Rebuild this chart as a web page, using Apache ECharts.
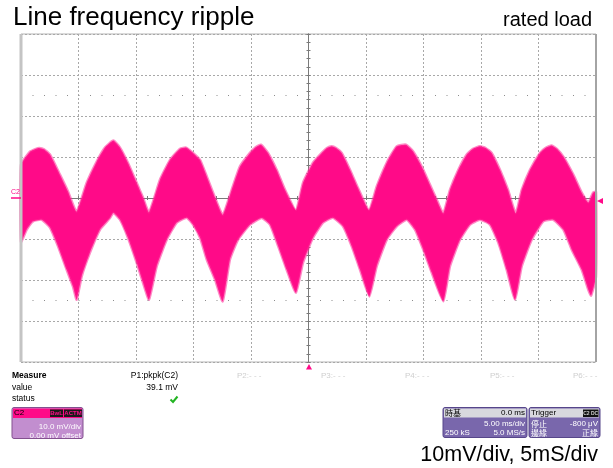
<!DOCTYPE html>
<html><head><meta charset="utf-8">
<script src="https://cdn.jsdelivr.net/npm/echarts@6/dist/echarts.min.js"></script>
<style>html,body{margin:0;padding:0;background:#fff}#c{width:613px;height:468px}</style>
</head><body><div id="c"></div>
<script>
// time (ms) / voltage (mV): upper and lower edge of the noisy ripple band
const upperEnv = [[-25.0,8.1],[-24.22,11.3],[-23.70,12.0],[-23.41,12.2],[-23.00,11.9],[-22.48,10.6],[-21.61,5.7],[-20.91,1.6],[-20.17,-3.3],
 [-19.29,3.7],[-18.42,8.9],[-17.70,12.3],[-16.97,14.0],[-16.39,12.3],[-15.70,8.6],[-14.94,3.7],[-14.39,0.1],[-13.87,-3.5],
 [-12.91,4.5],[-12.04,9.3],[-11.17,12.0],[-10.65,12.3],[-10.04,11.0],[-9.43,9.3],[-8.85,5.3],[-8.13,0.1],[-7.46,-4.1],
 [-6.68,2.0],[-5.96,7.7],[-5.09,11.0],[-4.60,12.4],[-4.13,13.0],[-3.52,11.0],[-2.77,6.9],[-2.04,2.0],[-1.09,-2.9],
 [-0.48,3.7],[0.39,8.6],[1.15,11.0],[1.60,12.2],[2.02,12.6],[2.40,12.2],[2.89,11.0],[3.61,6.9],[4.30,2.5],[5.26,-2.9],
 [5.93,2.8],[6.80,8.6],[7.67,12.6],[8.48,13.0],[9.09,11.4],[9.84,7.7],[10.57,3.2],[11.15,-0.4],[11.72,-3.7],
 [12.30,2.0],[13.03,6.9],[13.76,10.6],[14.30,12.0],[14.91,12.6],[15.40,12.2],[15.93,11.0],[16.65,6.9],[17.35,2.0],[18.02,-3.7],
 [18.54,2.0],[19.26,6.9],[20.13,11.0],[20.60,12.2],[21.15,12.8],[21.60,12.0],[22.16,10.1],[23.03,5.7],[23.76,1.3],[24.33,-1.1],[24.74,1.3],[25.0,1.5]];
const lowerEnv = [[-25.0,-10.7],[-24.50,-7.7],[-23.96,-5.7],[-23.20,-5.3],[-22.48,-7.2],[-21.78,-11.8],[-21.03,-17.5],[-20.48,-21.6],[-20.16,-24.8],
 [-19.72,-19.1],[-19.00,-13.3],[-18.13,-7.7],[-17.26,-4.9],[-16.97,-3.6],[-16.39,-5.3],[-15.70,-9.7],[-14.94,-15.8],[-14.39,-20.7],[-13.87,-24.8],
 [-13.20,-16.7],[-12.33,-10.2],[-11.46,-6.0],[-10.59,-4.8],[-10.04,-6.5],[-9.43,-9.7],[-8.85,-15.0],[-8.13,-19.9],[-7.46,-25.2],
 [-6.83,-15.0],[-6.13,-10.2],[-5.09,-6.5],[-4.07,-4.9],[-3.35,-6.5],[-2.63,-11.8],[-1.90,-17.5],[-1.09,-23.1],
 [-0.48,-15.8],[0.39,-9.7],[1.26,-6.0],[2.13,-4.8],[3.00,-6.9],[3.76,-11.8],[4.48,-17.5],[5.29,-24.0],
 [5.93,-16.7],[6.80,-10.2],[7.67,-6.9],[8.54,-5.3],[9.26,-7.7],[9.98,-12.6],[10.71,-18.2],[11.72,-25.2],
 [12.30,-16.7],[13.17,-10.2],[14.04,-6.5],[14.91,-5.3],[15.78,-6.5],[16.50,-10.9],[17.23,-17.5],[17.96,-24.8],
 [18.54,-16.7],[19.41,-10.2],[20.42,-5.7],[21.29,-5.3],[22.16,-7.7],[22.89,-12.6],[23.76,-17.5],[24.33,-22.4],[24.57,-23.8],[25.0,-19.2]];
const refLevels = [25, -25];

const PINK = '#ff0a88';
const FONT = 'Liberation Sans, Arial, sans-serif';
const CJK = '"Noto Sans CJK TC", sans-serif';
const chart = echarts.init(document.getElementById('c'), null, {renderer: 'canvas'});

function txt(x, y, s, size, fill, align, weight, family) {
  return {type: 'text', x: x, y: y, silent: true, z: 10, style: {text: s, fill: fill || '#000',
    font: (weight || 'normal') + ' ' + size + 'px ' + (family || FONT), textAlign: align || 'left', textVerticalAlign: 'middle'}};
}
function rect(x, y, w, h, fill, stroke, r) {
  return {type: 'rect', silent: true, z: 9, shape: {x: x, y: y, width: w, height: h, r: r || 0},
    style: {fill: fill, stroke: stroke || null, lineWidth: stroke ? 1 : 0}};
}
const axisCommon = {type: 'value', min: -25, max: 25, interval: 5};
const centerLine = {show: true, onZero: true, onZeroAxisIndex: 0, lineStyle: {color: '#7a7a7a', width: 1}};
const tickStyle = {show: true, length: 2, lineStyle: {color: '#7a7a7a'}};
const minorStyle = {show: true, splitNumber: 5, length: 2, lineStyle: {color: '#7a7a7a'}};
const gridSplit = {show: true, lineStyle: {color: '#a8a8a8', type: [2, 2], width: 1}};

chart.setOption({
  animation: false,
  grid: {left: 21, right: 17, top: 34, bottom: 106, show: true, borderColor: '#b4b4b4', borderWidth: 1},
  xAxis: [
    Object.assign({}, axisCommon, {position: 'bottom', axisLine: centerLine, axisTick: tickStyle, minorTick: minorStyle, axisLabel: {show: false}, splitLine: gridSplit}),
    Object.assign({}, axisCommon, {position: 'top', axisLine: centerLine, axisTick: tickStyle, minorTick: minorStyle, axisLabel: {show: false}, splitLine: {show: false}})
  ],
  yAxis: [
    {type: 'value', min: -40, max: 40, interval: 10, position: 'left', axisLine: centerLine, axisTick: tickStyle, minorTick: minorStyle, axisLabel: {show: false}, splitLine: gridSplit},
    {type: 'value', min: -40, max: 40, interval: 10, position: 'right', axisLine: centerLine, axisTick: tickStyle, minorTick: minorStyle, axisLabel: {show: false}, splitLine: {show: false}}
  ],
  series: [{
    type: 'custom', xAxisIndex: 0, yAxisIndex: 0, z: 3,
    data: [[0, 0]],
    renderItem: function (params, api) {
      const pts = upperEnv.map(p => api.coord(p)).concat(lowerEnv.slice().reverse().map(p => api.coord(p)));
      return {type: 'polygon', shape: {points: pts, smooth: 0.15},
        style: {fill: PINK, stroke: 'rgba(255,40,150,0.55)', lineWidth: 2.5, lineJoin: 'round'}};
    },
    markLine: {silent: true, symbol: 'none', label: {show: false},
      lineStyle: {color: '#8c8c8c', type: [1, 10.5], width: 1},
      data: refLevels.map(v => ({yAxis: v}))}
  }],
  graphic: [
    {type: 'rect', silent: true, z: 8, shape: {x: 19.5, y: 34, width: 3, height: 328}, style: {fill: '#c4c4c4'}},
    {type: 'rect', silent: true, z: 8, shape: {x: 595, y: 34, width: 2, height: 328}, style: {fill: '#a4a4a4'}},
    txt(13, 18, 'Line frequency ripple', 26, '#000'),
    txt(592, 20, 'rated load', 20, '#000', 'right'),
    // channel marker & trigger markers
    {type: 'line', silent: true, z: 9, shape: {x1: 11, y1: 198, x2: 21, y2: 198}, style: {stroke: PINK, lineWidth: 1.5}},
    txt(11, 192.5, 'C2', 7, PINK),
    {type: 'polygon', silent: true, z: 9, shape: {points: [[597, 201], [603, 198], [603, 204]]}, style: {fill: PINK}},
    {type: 'polygon', silent: true, z: 9, shape: {points: [[306, 369.5], [312, 369.5], [309, 364]]}, style: {fill: PINK}},
    // measurement table
    txt(12, 375.5, 'Measure', 8.5, '#000', 'left', 'bold'),
    txt(12, 387.5, 'value', 8.5, '#000'),
    txt(12, 399, 'status', 8.5, '#000'),
    txt(178, 375.5, 'P1:pkpk(C2)', 8.5, '#000', 'right'),
    txt(178, 387.5, '39.1 mV', 8.5, '#000', 'right'),
    {type: 'polyline', silent: true, z: 9, shape: {points: [[170.5, 399.5], [173, 402], [177.5, 396.5]]}, style: {stroke: '#22b422', lineWidth: 2, fill: null}},
    txt(237, 375.5, 'P2:- - -', 8, '#cfcfcf'),
    txt(321, 375.5, 'P3:- - -', 8, '#cfcfcf'),
    txt(405, 375.5, 'P4:- - -', 8, '#cfcfcf'),
    txt(490, 375.5, 'P5:- - -', 8, '#cfcfcf'),
    txt(573, 375.5, 'P6:- - -', 8, '#cfcfcf'),
    // C2 box
    rect(12, 407.5, 71, 31, '#c28ecf', '#83508f', 2),
    rect(13, 408.5, 69, 9.5, PINK),
    txt(14, 413, 'C2', 8, '#000'),
    rect(50, 409.5, 13, 7.5, '#1a1a1a'),
    txt(56.5, 413.3, 'BwL', 6, PINK, 'center', 'bold'),
    rect(64, 409.5, 18, 7.5, '#1a1a1a'),
    txt(73, 413.3, 'ACTM', 6, PINK, 'center', 'bold'),
    txt(81, 427, '10.0 mV/div', 8, '#ffffff', 'right'),
    txt(81, 435.5, '0.00 mV offset', 8, '#ffffff', 'right'),
    // timebase box
    rect(443, 407.5, 84, 30, '#7967ac', '#56468a', 2),
    rect(444, 408.5, 82, 9, '#d8d8de'),
    txt(445, 413, '時基', 8, '#000', 'left', 'normal', CJK),
    txt(525, 413, '0.0 ms', 8, '#000', 'right'),
    txt(525, 424, '5.00 ms/div', 8, '#ffffff', 'right'),
    txt(445, 432.5, '250 kS', 8, '#ffffff'),
    txt(525, 432.5, '5.0 MS/s', 8, '#ffffff', 'right'),
    // trigger box
    rect(529, 407.5, 71, 30, '#7967ac', '#56468a', 2),
    rect(530, 408.5, 69, 9, '#d8d8de'),
    txt(531, 413, 'Trigger', 8, '#000'),
    rect(583, 409.5, 15.5, 7.5, '#111'),
    txt(590.7, 413.3, 'C2 DC', 5, '#d0d0d0', 'center', 'bold'),
    txt(531, 424, '停止', 8, '#ffffff', 'left', 'normal', CJK),
    txt(598, 424, '-800 μV', 8, '#ffffff', 'right'),
    txt(531, 432.5, '邊緣', 8, '#ffffff', 'left', 'normal', CJK),
    txt(598, 432.5, '正緣', 8, '#ffffff', 'right', 'normal', CJK),
    txt(598, 455, '10mV/div, 5mS/div', 21.5, '#000', 'right')
  ]
});
</script></body></html>
